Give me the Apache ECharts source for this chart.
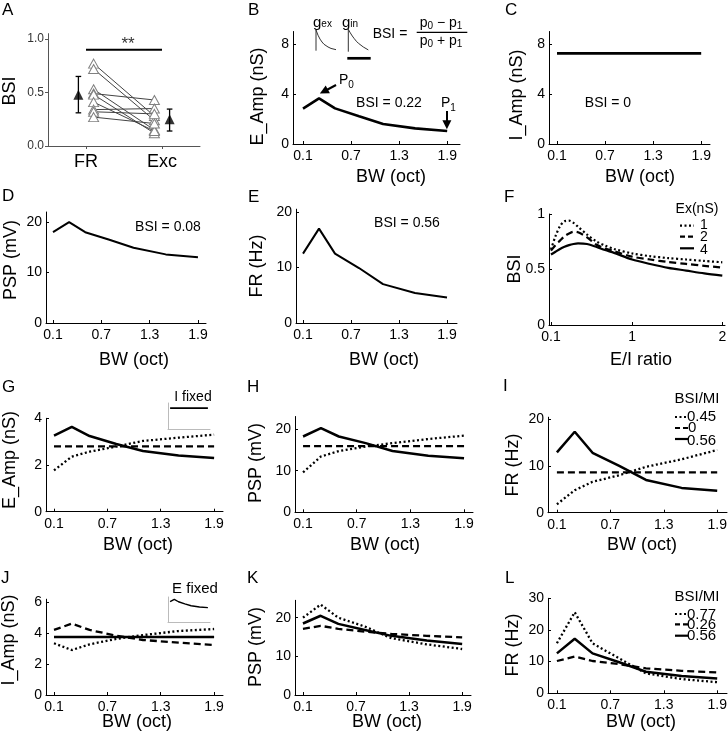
<!DOCTYPE html>
<html>
<head>
<meta charset="utf-8">
<script src="https://cdn.jsdelivr.net/npm/echarts@6.0.0/dist/echarts.min.js"></script>
<style>
html,body{margin:0;padding:0;background:#fff;}
#chart{width:728px;height:738px;}
</style>
</head>
<body>
<div id="chart"></div>
<script>
// ================= DATA =================
// Panel A
const groupNames = ['FR', 'Exc'];
const groupPos = [1, 2];
const pairX = [1.1, 1.9];
const bsiFR  = [0.77, 0.72, 0.53, 0.49, 0.48, 0.41, 0.34, 0.32, 0.27];
const bsiExc = [0.28, 0.24, 0.15, 0.43, 0.12, 0.14, 0.35, 0.30, 0.21];
const meanX = [0.9, 2.1];
const meanBSI = [0.48, 0.25];
const errLow = [0.31, 0.14];
const errHigh = [0.65, 0.345];
const sigY = 0.9;
const aYTicks = [0, 0.5, 1.0];

// Bandwidth axis (B-E, G-L)
const bw = [0.1, 0.3, 0.5, 0.8, 1.1, 1.5, 1.9];
const bwTicks = [0.1, 0.7, 1.3, 1.9];

// B, C, D, E
const eAmpB = [2.83, 3.65, 2.85, 2.22, 1.6, 1.25, 1.04];
const iAmpC = [7.25, 7.25, 7.25, 7.25, 7.25, 7.25, 7.25];
const pspD  = [18.0, 20.0, 18.0, 16.5, 14.9, 13.6, 13.05];
const frE   = [12.5, 17.0, 12.5, 9.9, 7.0, 5.4, 4.6];

// B inset conductance traces
const traceT   = [0, 0, 2, 4, 6, 8, 10, 12, 15, 20];
const gexTrace = [0, 1, 0.75, 0.56, 0.42, 0.31, 0.23, 0.18, 0.11, 0.05];
const ginTrace = [0, 1, 0.84, 0.70, 0.58, 0.47, 0.38, 0.30, 0.21, 0.08];

// F
const eiRatio = [0.1, 0.15, 0.2, 0.25, 0.3, 0.35, 0.4, 0.5, 0.6, 0.7, 0.8, 1.0, 1.2, 1.4, 1.6, 1.8, 2.0];
const eiTicks = [0.1, 1, 2];
const bsiEx1 = [0.68, 0.80, 0.89, 0.935, 0.94, 0.92, 0.885, 0.815, 0.755, 0.715, 0.685, 0.645, 0.62, 0.603, 0.59, 0.577, 0.565];
const bsiEx2 = [0.67, 0.72, 0.76, 0.80, 0.825, 0.84, 0.835, 0.79, 0.725, 0.69, 0.665, 0.616, 0.59, 0.567, 0.55, 0.533, 0.517];
const bsiEx4 = [0.635, 0.66, 0.685, 0.705, 0.72, 0.73, 0.735, 0.73, 0.705, 0.675, 0.65, 0.59, 0.55, 0.515, 0.49, 0.465, 0.445];
const exLegend = ['1', '2', '4'];

// G (E_Amp, I fixed)
const gSolid  = [3.26, 3.63, 3.24, 2.9, 2.6, 2.41, 2.3];
const gDashed = [2.8, 2.8, 2.8, 2.8, 2.8, 2.8, 2.8];
const gDotted = [1.77, 2.36, 2.57, 2.79, 3.03, 3.17, 3.3];
// H (PSP)
const hSolid  = [18.2, 20.2, 18.2, 16.6, 14.7, 13.6, 13.0];
const hDashed = [15.9, 15.9, 15.9, 15.9, 15.9, 15.9, 15.9];
const hDotted = [9.6, 13.4, 14.7, 15.8, 16.6, 17.6, 18.4];
// I (FR)
const iSolid  = [12.9, 17.3, 12.8, 10.0, 7.0, 5.3, 4.7];
const iDashed = [8.6, 8.6, 8.6, 8.6, 8.6, 8.6, 8.6];
const iDotted = [1.8, 4.8, 6.6, 8.0, 9.8, 11.4, 13.4];
const iLegend = ['0.45', '0', '0.56'];
// J (I_Amp, E fixed)
const jSolid  = [3.75, 3.75, 3.75, 3.75, 3.75, 3.75, 3.75];
const jDashed = [4.21, 4.62, 4.21, 3.84, 3.56, 3.39, 3.24];
const jDotted = [3.35, 2.91, 3.28, 3.63, 3.88, 4.14, 4.27];
// K (PSP)
const kSolid  = [18.5, 20.5, 18.4, 16.8, 15.3, 14.1, 13.2];
const kDashed = [17.1, 17.9, 17.1, 16.4, 15.8, 15.3, 14.9];
const kDotted = [20.0, 23.4, 20.0, 17.7, 14.7, 13.1, 11.9];
// L (FR)
const lSolid  = [12.6, 17.2, 12.6, 9.8, 6.8, 5.5, 4.7];
const lDashed = [10.2, 11.6, 10.2, 9.2, 7.9, 7.1, 6.6];
const lDotted = [15.8, 25.6, 15.8, 11.0, 6.3, 4.5, 3.5];
const lLegend = ['0.77', '0.26', '0.56'];

// ================= BUILD =================
const FONT = '"Liberation Sans", Arial, Helvetica, sans-serif';
const grids = [], xAxes = [], yAxes = [], series = [], graphics = [];
const DOT = [2, 2.5], DASH = [7, 4];

function addPanel(p) {
  const gi = grids.length;
  grids.push({left: p.rect[0], top: p.rect[1], width: p.rect[2], height: p.rect[3],
              containLabel: false, outerBoundsMode: 'none'});
  const col = p.color || '#000';
  function axis(range, ticks, lab) {
    const hasT = !!(ticks && ticks.length);
    const a = {
      gridIndex: gi, type: 'value', min: range[0], max: range[1],
      axisLine: {show: p.line !== false, onZero: false, lineStyle: {color: p.lineColor || col, width: 1}},
      axisTick: {show: hasT, inside: !p.outTicks, length: p.tickLen || 3, lineStyle: {color: col, width: 1}},
      axisLabel: {show: false},
      splitLine: {show: false}, splitArea: {show: false}
    };
    if (hasT) {
      a.axisTick.customValues = ticks;
      a.axisLabel = Object.assign({show: true, customValues: ticks, color: '#000',
        fontFamily: FONT, fontSize: 14}, lab || {});
    }
    return a;
  }
  xAxes.push(axis(p.x, p.xt, Object.assign({margin: 5}, p.xl || {})));
  yAxes.push(axis(p.y, p.yt, Object.assign({margin: 4}, p.yl || {})));
  return gi;
}

function line(gi, xs, ys, dash, width, extra) {
  series.push(Object.assign({
    type: 'line', xAxisIndex: gi, yAxisIndex: gi,
    data: xs.map((x, k) => [x, ys[k]]),
    symbol: 'none', silent: true, animation: false,
    lineStyle: {color: '#000', width: width || 2, type: dash || 'solid', cap: 'butt'}
  }, extra || {}));
}

function txt(text, x, y, size, align, extra, color) {
  graphics.push(Object.assign({
    type: 'text', x: x, y: y, silent: true,
    style: {text: text, font: size + 'px ' + FONT, fontSize: size, fontFamily: FONT,
            fill: color || '#000', textAlign: align || 'center', align: align || 'center',
            textVerticalAlign: 'middle', verticalAlign: 'middle'}
  }, extra || {}));
}

const mctx = document.createElement('canvas').getContext('2d');
function tw(t, size) { mctx.font = size + 'px ' + FONT; return mctx.measureText(t).width; }
// pieces: [text, size, dy]
function comp(pieces, x, y, align) {
  const total = pieces.reduce((s, p) => s + tw(p[0], p[1]), 0);
  let cx = align === 'center' ? x - total / 2 : x;
  pieces.forEach(p => { txt(p[0], cx, y + (p[2] || 0), p[1], 'left'); cx += tw(p[0], p[1]); });
}

function gline(x1, y1, x2, y2, w, dash, color) {
  graphics.push({type: 'line', silent: true, shape: {x1: x1, y1: y1, x2: x2, y2: y2},
    style: {stroke: color || '#000', lineWidth: w, lineDash: dash || null}});
}

// ---------- Panel A ----------
const gA = addPanel({rect: [48, 33.65, 152, 112.35], x: [0.5, 2.5], y: [0, 1.05],
  xt: groupPos, yt: aYTicks, color: '#555', outTicks: true, tickLen: 3,
  xl: {fontSize: 18, margin: 7, formatter: v => groupNames[groupPos.indexOf(+v)]},
  yl: {fontSize: 12, margin: 4, color: '#333', formatter: v => (+v).toFixed(1)}});
bsiFR.forEach((v, k) => {
  series.push({type: 'line', xAxisIndex: gA, yAxisIndex: gA, silent: true, animation: false,
    data: [[pairX[0], v], [pairX[1], bsiExc[k]]],
    symbol: 'triangle', symbolSize: [10, 9], showSymbol: true,
    itemStyle: {color: '#fff', borderColor: '#808080', borderWidth: 1},
    lineStyle: {color: '#444', width: 1}});
});
line(gA, groupPos, [sigY, sigY], 'solid', 2);
series.push({type: 'custom', xAxisIndex: gA, yAxisIndex: gA, silent: true, animation: false,
  data: meanX.map((x, k) => [x, errLow[k], errHigh[k]]),
  encode: {x: 0, y: [1, 2]},
  renderItem: function (params, api) {
    const x = api.value(0);
    const lo = api.coord([x, api.value(1)]), hi = api.coord([x, api.value(2)]);
    const w = 2.8, st = {stroke: '#000', lineWidth: 1.3};
    return {type: 'group', children: [
      {type: 'line', shape: {x1: lo[0], y1: lo[1], x2: hi[0], y2: hi[1]}, style: st},
      {type: 'line', shape: {x1: lo[0] - w, y1: lo[1], x2: lo[0] + w, y2: lo[1]}, style: st},
      {type: 'line', shape: {x1: hi[0] - w, y1: hi[1], x2: hi[0] + w, y2: hi[1]}, style: st}
    ]};
  }});
series.push({type: 'scatter', xAxisIndex: gA, yAxisIndex: gA, silent: true, animation: false, z: 5,
  data: meanX.map((x, k) => [x, meanBSI[k]]), symbol: 'triangle', symbolSize: [10, 10],
  itemStyle: {color: '#000'}});
txt('**', 128, 44, 17, 'center', null, '#333');

// ---------- Panel B ----------
const gB = addPanel({rect: [293, 31.5, 167, 112.5], x: [-0.025, 2.06], y: [0, 9], xt: bwTicks, yt: [0, 4, 8]});
line(gB, bw, eAmpB, 'solid', 2.6, {markLine: {
  silent: true, animation: false, symbol: ['none', 'triangle'], symbolSize: [9, 9],
  label: {show: false}, lineStyle: {color: '#000', width: 2, type: 'solid'},
  emphasis: {disabled: true},
  data: [[{coord: [0.5125, 4.72]}, {coord: [0.36, 4.20]}],
         [{coord: [1.896, 2.64]}, {coord: [1.896, 1.55]}]]}});
const gExI = addPanel({rect: [316, 30, 20, 20.7], x: [0, 20], y: [0, 1], line: false});
line(gExI, traceT, gexTrace, 'solid', 1, {lineStyle: {color: '#333', width: 1}});
const gInI = addPanel({rect: [348.3, 29.3, 20, 22.4], x: [0, 20], y: [0, 1], line: false});
line(gInI, traceT, ginTrace, 'solid', 1, {lineStyle: {color: '#333', width: 1}});
gline(347.3, 58.3, 370.7, 58.3, 2.7);
comp([['g', 15], ['ex', 10, 1.5]], 313, 23, 'left');
comp([['g', 15], ['in', 10, 1.5]], 342, 23, 'left');
txt('BSI =', 390, 34, 14, 'center');
comp([['p', 14], ['0', 10, 3.7], [' \u2212 ', 14], ['p', 14], ['1', 10, 3.7]], 441, 23, 'center');
comp([['p', 14], ['0', 10, 3.7], [' + ', 14], ['p', 14], ['1', 10, 3.7]], 441, 41, 'center');
gline(416.7, 32.3, 467.3, 32.3, 1.2);
comp([['P', 14], ['0', 10, 5]], 339, 80.5, 'left');
comp([['P', 14], ['1', 10, 5]], 441, 103, 'left');
txt('BSI = 0.22', 389, 103, 14, 'center');

// ---------- Panel C ----------
const gC = addPanel({rect: [549, 31.5, 161, 112.5], x: [0, 2.01], y: [0, 9], xt: bwTicks, yt: [0, 4, 8]});
line(gC, bw, iAmpC, 'solid', 2.6);
txt('BSI = 0', 608, 103, 14, 'center');

// ---------- Panel D ----------
const gD = addPanel({rect: [46, 212, 160, 111], x: [0.013, 2.0], y: [0, 22], xt: bwTicks, yt: [0, 10, 20]});
line(gD, bw, pspD, 'solid', 2);
txt('BSI = 0.08', 168, 227, 14, 'center');

// ---------- Panel E ----------
const gE = addPanel({rect: [296, 209.2, 161, 113.8], x: [0.0125, 2.025], y: [0, 20.5], xt: bwTicks, yt: [0, 10, 20]});
line(gE, bw, frE, 'solid', 2);
txt('BSI = 0.56', 407, 223, 14, 'center');

// ---------- Panel F ----------
const gF = addPanel({rect: [549, 214, 176, 111], x: [0.078, 2.03], y: [0, 1], xt: eiTicks, yt: [0, 0.5, 1]});
line(gF, eiRatio, bsiEx1, DOT, 2.2, {smooth: 0.3});
line(gF, eiRatio, bsiEx2, DASH, 2.2, {smooth: 0.3});
line(gF, eiRatio, bsiEx4, 'solid', 2.2, {smooth: 0.3});
txt('Ex(nS)', 697, 209, 14, 'center');
gline(680, 225.7, 694, 225.7, 2.2, DOT);
gline(680, 236.7, 694, 236.7, 2.2, [5, 3]);
gline(680, 248.3, 694, 248.3, 2.2, null);
txt(exLegend[0], 704, 225, 14, 'center');
txt(exLegend[1], 704, 237, 14, 'center');
txt(exLegend[2], 704, 250, 14, 'center');

// ---------- Panel G ----------
const gG = addPanel({rect: [46, 418.3, 177, 93.4], x: [0.01, 2.0], y: [0, 4], xt: bwTicks, yt: [0, 2, 4]});
line(gG, bw, gDotted, DOT, 2.3);
line(gG, bw, gDashed, DASH, 2.3);
line(gG, bw, gSolid, 'solid', 2.5);
const gGI = addPanel({rect: [168, 403, 42, 26], x: [0, 2], y: [0, 9], lineColor: '#bbb'});
line(gGI, bw, iAmpC, 'solid', 1.8);
txt('I fixed', 193, 397, 14, 'center');

// ---------- Panel H ----------
const gH = addPanel({rect: [295, 416.5, 178, 95.8], x: [0.01, 2.0], y: [0, 23], xt: bwTicks, yt: [0, 10, 20]});
line(gH, bw, hDotted, DOT, 2.3);
line(gH, bw, hDashed, DASH, 2.3);
line(gH, bw, hSolid, 'solid', 2.5);

// ---------- Panel I ----------
const gI = addPanel({rect: [548, 417.2, 179, 95.5], x: [0, 2.01], y: [0, 20.4], xt: bwTicks, yt: [0, 10, 20]});
line(gI, bw, iDotted, DOT, 2.3);
line(gI, bw, iDashed, DASH, 2.3);
line(gI, bw, iSolid, 'solid', 2.5);
txt('BSI/MI', 697, 398.5, 15, 'center');
gline(675, 417, 688, 417, 2, DOT);
gline(675, 428, 688, 428, 2.2, [5, 3]);
gline(675, 439, 688, 439, 2.2, null);
txt(iLegend[0], 687, 417, 15, 'left');
txt(iLegend[1], 688, 428, 15, 'left');
txt(iLegend[2], 687, 441, 15, 'left');

// ---------- Panel J ----------
const gJ = addPanel({rect: [46, 599.2, 177, 95.8], x: [0.01, 2.0], y: [0, 6.2], xt: bwTicks, yt: [0, 2, 4, 6]});
line(gJ, bw, jDotted, DOT, 2.3);
line(gJ, bw, jDashed, DASH, 2.3);
line(gJ, bw, jSolid, 'solid', 2.5);
const gJI = addPanel({rect: [168, 597, 42, 25], x: [0, 2], y: [0, 4], lineColor: '#bbb'});
line(gJI, bw, gSolid, 'solid', 1.4);
txt('E fixed', 195, 589, 15, 'center');

// ---------- Panel K ----------
const gK = addPanel({rect: [295, 600.3, 176, 94.7], x: [0.01, 2.0], y: [0, 24.5], xt: bwTicks, yt: [0, 10, 20]});
line(gK, bw, kDotted, DOT, 2.3);
line(gK, bw, kDashed, DASH, 2.3);
line(gK, bw, kSolid, 'solid', 2.5);

// ---------- Panel L ----------
const gL = addPanel({rect: [548, 598.3, 179, 95], x: [0, 2.01], y: [0, 30], xt: bwTicks, yt: [0, 10, 20, 30]});
line(gL, bw, lDotted, DOT, 2.3);
line(gL, bw, lDashed, DASH, 2.3);
line(gL, bw, lSolid, 'solid', 2.5);
txt('BSI/MI', 697, 597, 15, 'center');
gline(675, 614, 688, 614, 2, DOT);
gline(675, 624.3, 688, 624.3, 2.2, [5, 3]);
gline(675, 635.7, 688, 635.7, 2.2, null);
txt(lLegend[0], 687, 614.5, 15, 'left');
txt(lLegend[1], 687, 625, 15, 'left');
txt(lLegend[2], 687, 636, 15, 'left');

// ---------- Panel letters ----------
[['A', 2, 10], ['B', 248, 10.5], ['C', 505, 10.5],
 ['D', 2, 196], ['E', 248, 197], ['F', 504, 197],
 ['G', 2, 387], ['H', 247, 387], ['I', 503, 386],
 ['J', 1, 578], ['K', 247, 578], ['L', 505, 578]].forEach(l => txt(l[0], l[1], l[2], 17, 'left'));

// ---------- Axis names ----------
const R = {rotation: Math.PI / 2};
[['BSI', 10, 91], ['E_Amp (nS)', 258, 96.5], ['I_Amp (nS)', 517.5, 95],
 ['PSP (mV)', 11, 260], ['FR (Hz)', 257, 266], ['BSI', 515, 269],
 ['E_Amp (nS)', 10, 460], ['PSP (mV)', 256, 463], ['FR (Hz)', 513.5, 465],
 ['I_Amp (nS)', 9.5, 640], ['PSP (mV)', 256, 647], ['FR (Hz)', 513.5, 645]]
  .forEach(n => txt(n[0], n[1], n[2], 18, 'center', R));
[['BW (oct)', 391, 177], ['BW (oct)', 640, 177],
 ['BW (oct)', 134, 360], ['BW (oct)', 384, 360], ['E/I ratio', 641, 360],
 ['BW (oct)', 138, 545], ['BW (oct)', 385, 545], ['BW (oct)', 642, 545],
 ['BW (oct)', 137, 722], ['BW (oct)', 387, 722], ['BW (oct)', 641, 722]]
  .forEach(n => txt(n[0], n[1], n[2], 18, 'center'));

const chart = echarts.init(document.getElementById('chart'), null, {renderer: 'canvas', width: 728, height: 738});
chart.setOption({
  animation: false,
  backgroundColor: '#fff',
  textStyle: {fontFamily: FONT},
  grid: grids, xAxis: xAxes, yAxis: yAxes, series: series,
  graphic: {elements: graphics}
});
</script>
</body>
</html>
